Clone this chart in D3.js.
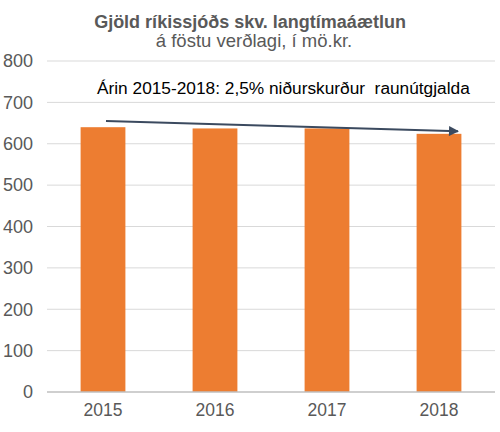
<!DOCTYPE html>
<html>
<head>
<meta charset="utf-8">
<script src="https://cdn.jsdelivr.net/npm/d3@7"></script>
<style>
  body { margin: 0; background: #fff; }
  text { font-family: Arial, "Liberation Sans", sans-serif; }
</style>
</head>
<body>
<div id="chart"></div>
<script>
// Gjöld ríkissjóðs - bar chart
const years = ["2015", "2016", "2017", "2018"];
const spending = [640, 637, 637, 624];
const yTicks = [0, 100, 200, 300, 400, 500, 600, 700, 800];
const arrowFrom = ["2015", 655];
const arrowTo = ["2018", 630];

const width = 500;
const height = 432;
const margin = { top: 61, right: 5, bottom: 40, left: 47 };

const svg = d3.select("#chart")
  .append("svg")
  .attr("width", width)
  .attr("height", height);

const x = d3.scaleBand()
  .domain(years)
  .range([margin.left, width - margin.right])
  .paddingInner(0.6)
  .paddingOuter(0.3);

const y = d3.scaleLinear()
  .domain([0, 800])
  .range([height - margin.bottom, margin.top]);

// gridlines
svg.append("g")
  .selectAll("line")
  .data(yTicks.filter(d => d > 0))
  .enter()
  .append("line")
  .attr("x1", margin.left)
  .attr("x2", width - margin.right)
  .attr("y1", d => y(d))
  .attr("y2", d => y(d))
  .style("stroke", "#d9d9d9")
  .style("stroke-width", 1);

// y axis labels
const yAxis = d3.axisLeft(y).tickValues(yTicks).tickSize(0).tickPadding(14);
svg.append("g")
  .attr("transform", `translate(${margin.left},0)`)
  .call(yAxis)
  .call(g => g.select(".domain").remove())
  .selectAll("text")
  .style("font-size", "18px")
  .style("fill", "#595959");

// bars
svg.selectAll("rect")
  .data(spending)
  .enter()
  .append("rect")
  .attr("x", (d, i) => x(years[i]))
  .attr("y", d => y(d))
  .attr("width", x.bandwidth())
  .attr("height", d => y(0) - y(d))
  .style("fill", "#ed7d31");

// x axis
const xAxis = d3.axisBottom(x).tickSize(0).tickPadding(12);
svg.append("g")
  .attr("transform", `translate(0,${y(0)})`)
  .call(xAxis)
  .call(g => g.select(".domain")
    .attr("d", `M${margin.left},0H${width - margin.right}`)
    .style("stroke", "#bfbfbf")
    .style("stroke-width", 1.5))
  .selectAll("text")
  .style("font-size", "17.5px")
  .style("fill", "#595959");

// titles
svg.append("text")
  .attr("x", 250)
  .attr("y", 28)
  .attr("text-anchor", "middle")
  .style("font-size", "18px")
  .style("font-weight", "bold")
  .style("fill", "#595959")
  .text("Gjöld ríkissjóðs skv. langtímaáætlun");

svg.append("text")
  .attr("x", 254)
  .attr("y", 47)
  .attr("text-anchor", "middle")
  .style("font-size", "18.5px")
  .style("fill", "#595959")
  .text("á föstu verðlagi, í mö.kr.");

svg.append("text")
  .attr("x", 97)
  .attr("y", 94)
  .style("font-size", "17.3px")
  .style("fill", "#000")
  .attr("xml:space", "preserve")
  .style("white-space", "pre")
  .text("Árin 2015-2018: 2,5% niðurskurður  raunútgjalda");

// trend arrow
svg.append("defs")
  .append("marker")
  .attr("id", "arrowhead")
  .attr("viewBox", "0 0 10 10")
  .attr("refX", 9)
  .attr("refY", 5)
  .attr("markerWidth", 5.5)
  .attr("markerHeight", 5)
  .attr("orient", "auto")
  .append("path")
  .attr("d", "M0,0L10,5L0,10Z")
  .style("fill", "#3b4a5f");

svg.append("line")
  .attr("x1", x(arrowFrom[0]) + x.bandwidth() / 2 + 3)
  .attr("y1", y(arrowFrom[1]))
  .attr("x2", x(arrowTo[0]) + x.bandwidth() / 2 + 19)
  .attr("y2", y(arrowTo[1]))
  .style("stroke", "#3b4a5f")
  .style("stroke-width", 2)
  .attr("marker-end", "url(#arrowhead)");
</script>
</body>
</html>
